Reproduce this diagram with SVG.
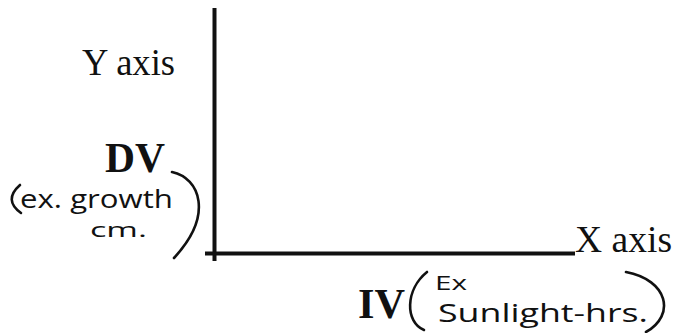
<svg xmlns="http://www.w3.org/2000/svg" width="673" height="333" viewBox="0 0 673 333">
<style>
.serif{font-family:"Liberation Serif","Times New Roman",serif;fill:#111}
.hand{font-family:"Open Sans","DejaVu Sans",sans-serif;fill:#111;font-weight:400}
.ax{stroke:#111;stroke-width:4;fill:none}
.par{stroke:#111;stroke-width:2.6;fill:none;stroke-linecap:round}
</style>
<rect width="673" height="333" fill="#fff"/>
<g id="connectors">
<line class="ax" x1="214.5" y1="8" x2="214.5" y2="261"/>
<line class="ax" x1="205" y1="253.5" x2="575" y2="253.5"/>
</g>
<g id="y-label"><text class="serif" x="82" y="75" font-size="37" textLength="93" lengthAdjust="spacingAndGlyphs">Y axis</text></g>
<g id="x-label"><text class="serif" x="575" y="252" font-size="37" textLength="97" lengthAdjust="spacingAndGlyphs">X axis</text></g>
<g id="dv">
<text class="serif" x="105" y="172" font-size="42" font-weight="bold" textLength="60" lengthAdjust="spacingAndGlyphs">DV</text>
<path class="par" d="M20,185 Q3,200 21,213"/>
<text class="hand" x="20" y="208" font-size="26" textLength="153" lengthAdjust="spacingAndGlyphs">ex. growth</text>
<text class="hand" x="90" y="237" font-size="20" textLength="57" lengthAdjust="spacingAndGlyphs">cm.</text>
<path class="par" d="M172,172 C200,178 214,215 174,258"/>
</g>
<g id="iv">
<text class="serif" x="358" y="318" font-size="42" font-weight="bold" textLength="47" lengthAdjust="spacingAndGlyphs">IV</text>
<path class="par" d="M427,272 C405,290 405,322 424,330"/>
<text class="hand" x="435" y="290" font-size="20" textLength="32" lengthAdjust="spacingAndGlyphs">Ex</text>
<text class="hand" x="438" y="322" font-size="26" textLength="210" lengthAdjust="spacingAndGlyphs">Sunlight-hrs.</text>
<path class="par" d="M626,272 C668,280 676,315 646,332"/>
</g>
</svg>
